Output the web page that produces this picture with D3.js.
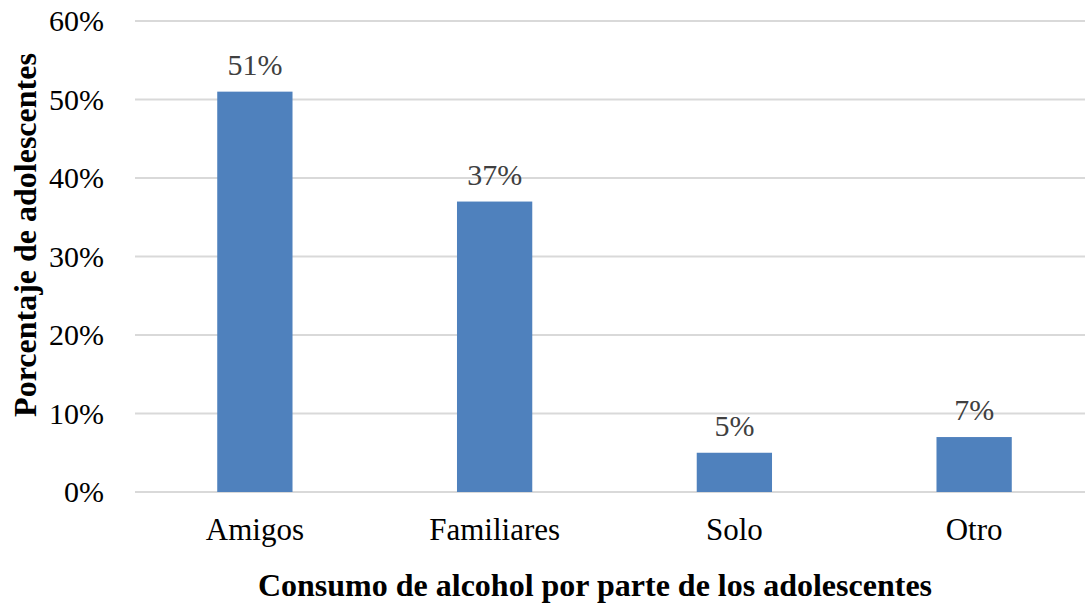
<!DOCTYPE html>
<html>
<head>
<meta charset="utf-8">
<script src="https://cdn.jsdelivr.net/npm/d3@7"></script>
<style>
  body { margin: 0; background: #fff; }
  svg { display: block; font-family: "Liberation Serif", "Times New Roman", serif; }
</style>
</head>
<body>
<div class="chart"></div>
<script>
// Chart data
const categories = ["Amigos", "Familiares", "Solo", "Otro"];
const values = [0.51, 0.37, 0.05, 0.07];
const yTicks = [0, 0.1, 0.2, 0.3, 0.4, 0.5, 0.6];

const width = 1085, height = 605;
const plotLeft = 135, plotRight = 1094, plotTop = 21, plotBottom = 492;

const svg = d3.select(".chart").append("svg")
    .attr("width", width)
    .attr("height", height);

const x = d3.scaleBand()
    .domain(categories)
    .range([plotLeft, plotRight])
    .paddingInner(0.686)
    .paddingOuter(0.343);

const y = d3.scaleLinear()
    .domain([0, 0.6])
    .range([plotBottom, plotTop]);

const fmt = d3.format(".0%");

// Gridlines
svg.selectAll("line.grid")
    .data(yTicks)
    .enter().append("line")
    .attr("class", "grid")
    .attr("x1", plotLeft)
    .attr("x2", width)
    .attr("y1", d => y(d))
    .attr("y2", d => y(d))
    .attr("stroke", "#d9d9d9")
    .attr("stroke-width", 2);

// Y tick labels
svg.selectAll("text.ytick")
    .data(yTicks)
    .enter().append("text")
    .attr("class", "ytick")
    .attr("x", 104)
    .attr("y", d => y(d) + 10)
    .attr("text-anchor", "end")
    .attr("font-size", 30)
    .attr("fill", "#000")
    .text(d => fmt(d));

// Bars
svg.selectAll("rect.bar")
    .data(values)
    .enter().append("rect")
    .attr("class", "bar")
    .attr("x", (d, i) => x(categories[i]))
    .attr("y", d => y(d))
    .attr("width", x.bandwidth())
    .attr("height", d => y(0) - y(d))
    .attr("fill", "#4f81bd");

// Data labels
svg.selectAll("text.label")
    .data(values)
    .enter().append("text")
    .attr("class", "label")
    .attr("x", (d, i) => x(categories[i]) + x.bandwidth() / 2)
    .attr("y", d => y(d) - 17)
    .attr("text-anchor", "middle")
    .attr("font-size", 30)
    .attr("fill", "#404040")
    .text(d => fmt(d));

// Category labels
svg.selectAll("text.cat")
    .data(categories)
    .enter().append("text")
    .attr("class", "cat")
    .attr("x", d => x(d) + x.bandwidth() / 2)
    .attr("y", 540)
    .attr("text-anchor", "middle")
    .attr("font-size", 31)
    .attr("fill", "#000")
    .text(d => d);

// Axis titles
svg.append("text")
    .attr("x", 595)
    .attr("y", 596)
    .attr("text-anchor", "middle")
    .attr("font-size", 32)
    .attr("font-weight", "bold")
    .text("Consumo de alcohol por parte de los adolescentes");

svg.append("text")
    .attr("transform", "translate(36, 235) rotate(-90)")
    .attr("text-anchor", "middle")
    .attr("font-size", 32)
    .attr("font-weight", "bold")
    .text("Porcentaje de adolescentes");
</script>
</body>
</html>
